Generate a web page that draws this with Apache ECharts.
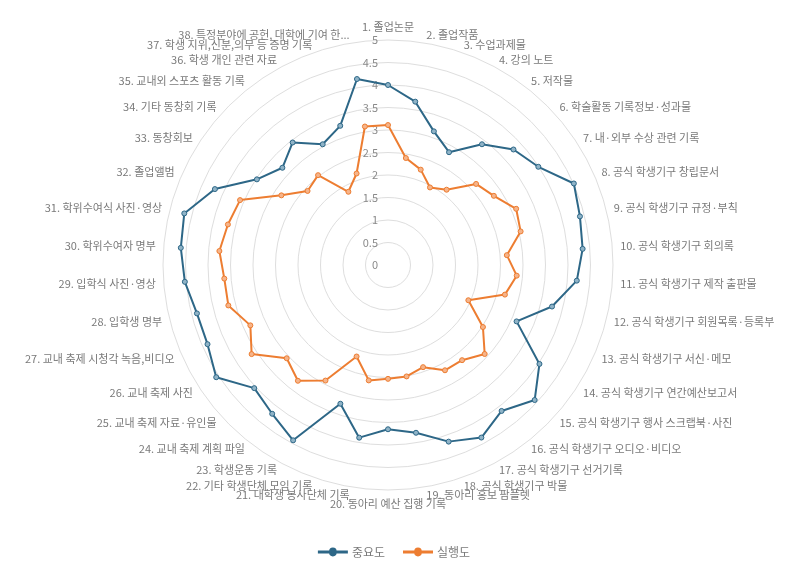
<!DOCTYPE html>
<html>
<head>
<meta charset="utf-8">
<script src="https://cdn.jsdelivr.net/npm/echarts@6/dist/echarts.min.js"></script>
<style>
html,body{margin:0;padding:0;background:#fff;}
#chart{width:788px;height:566px;}
</style>
</head>
<body>
<div id="chart"></div>
<script>
const categories = [
  "1. 졸업논문","2. 졸업작품","3. 수업과제물","4. 강의 노트","5. 저작물",
  "6. 학술활동 기록정보·성과물","7. 내·외부 수상 관련 기록","8. 공식 학생기구 창립문서",
  "9. 공식 학생기구 규정·부칙","10. 공식 학생기구 회의록","11. 공식 학생기구 제작 출판물",
  "12. 공식 학생기구 회원목록·등록부","13. 공식 학생기구 서신·메모","14. 공식 학생기구 연간예산보고서",
  "15. 공식 학생기구 행사 스크랩북·사진","16. 공식 학생기구 오디오·비디오","17. 공식 학생기구 선거기록",
  "18. 공식 학생기구 박물","19. 동아리 홍보 팜플렛","20. 동아리 예산 집행 기록",
  "21. 대학생 봉사단체 기록","22. 기타 학생단체 모임 기록","23. 학생운동 기록",
  "24. 교내 축제 계획 파일","25. 교내 축제 자료·유인물","26. 교내 축제 사진",
  "27. 교내 축제 시청각 녹음,비디오","28. 입학생 명부","29. 입학식 사진·영상",
  "30. 학위수여자 명부","31. 학위수여식 사진·영상","32. 졸업앨범","33. 동창회보",
  "34. 기타 동창회 기록","35. 교내외 스포츠 활동 기록","36. 학생 개인 관련 자료",
  "37. 학생 지위,신분,의무 등 증명 기록","38. 특정분야에 공헌, 대학에 기여 한..."
];
const importance = [4.00,3.68,3.14,2.85,3.40,3.79,3.99,4.51,4.40,4.34,4.21,3.76,3.12,4.02,4.43,4.11,4.36,4.15,3.78,3.65,3.89,3.26,4.43,4.19,4.04,4.56,4.38,4.38,4.53,4.62,4.67,4.20,3.48,3.19,3.45,3.05,3.27,4.19];
const performance = [3.11,2.41,2.24,1.96,2.12,2.66,2.81,3.11,3.04,2.65,2.87,2.68,1.95,2.52,2.92,2.68,2.66,2.40,2.51,2.53,2.60,2.15,2.92,3.26,3.06,3.62,3.34,3.66,3.65,3.76,3.67,3.59,2.83,2.43,2.53,1.85,2.15,3.12];
const seriesNames = ["중요도","실행도"];
const axisMax = 5;
const axisStep = 0.5;

// ECharts radar runs counter-clockwise; reorder so categories run clockwise from the top
const order = [0].concat(categories.map((_, i) => categories.length - 1 - i).slice(0, categories.length - 1));
const cw = arr => order.map(i => arr[i]);

const FONT = '"Noto Sans CJK KR","Noto Sans",sans-serif';
const blue = '#2D6787';
const orange = '#ED7D31';
const textColor = '#7a7a7a';
const legendIcon = 'path://M0,4.4h11.2a2.8,2.8 0 0 1 5.6,0h11.2v1.2h-11.2a2.8,2.8 0 0 1 -5.6,0h-11.2z';

const chart = echarts.init(document.getElementById('chart'));
chart.setOption({
  backgroundColor:'#fff',
  textStyle:{fontFamily:FONT},
  legend:{
    bottom:3, left:'center',
    itemWidth:28, itemHeight:10, itemGap:18,
    icon:legendIcon,
    textStyle:{color:textColor,fontSize:12,fontFamily:FONT},
    data:[{name:seriesNames[0],itemStyle:{color:blue}},{name:seriesNames[1],itemStyle:{color:orange}}]
  },
  radar:{
    center:[388,265],
    radius:225,
    startAngle:90,
    shape:'circle',
    splitNumber:axisMax/axisStep,
    nameGap:8,
    axisName:{color:textColor,fontSize:11,fontFamily:FONT},
    indicator:cw(categories).map(n=>({name:n,min:0,max:axisMax})),
    axisLine:{show:false},
    axisTick:{show:false},
    splitArea:{show:false},
    splitLine:{lineStyle:{color:'#dedede',width:1}}
  },
  polar:{center:[388,265],radius:225},
  angleAxis:{show:false,startAngle:90,min:0,max:360},
  radiusAxis:{
    min:0,max:axisMax,interval:axisStep,
    axisLine:{show:false},axisTick:{show:false},splitLine:{show:false},
    axisLabel:{color:'#8a8a8a',fontSize:11,fontFamily:FONT,margin:10}
  },
  series:[{
    type:'radar',
    symbol:'circle',symbolSize:5,
    data:[
      {name:seriesNames[0],value:cw(importance),
       lineStyle:{color:blue,width:2},
       itemStyle:{color:'#8fb3c7',borderColor:blue,borderWidth:1}},
      {name:seriesNames[1],value:cw(performance),
       lineStyle:{color:orange,width:2},
       itemStyle:{color:'#f6b48a',borderColor:orange,borderWidth:1}}
    ]
  }]
});
</script>
</body>
</html>
